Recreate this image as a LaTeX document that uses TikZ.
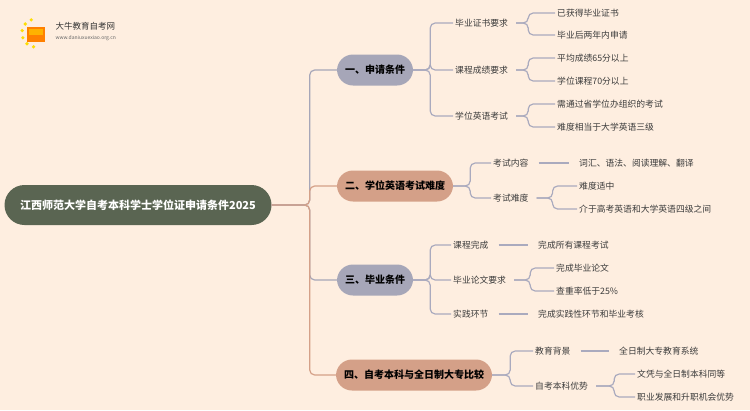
\documentclass[tikz,border=0pt]{standalone}
\usepackage{fontspec}
\setmainfont{Noto Sans CJK SC}
\usetikzlibrary{positioning}
\definecolor{bgc}{RGB}{254,238,224}
\definecolor{rootc}{RGB}{90,101,82}
\definecolor{grayc}{RGB}{166,166,184}
\definecolor{brownc}{RGB}{212,160,136}
\definecolor{linec}{RGB}{170,170,190}
\definecolor{txtc}{RGB}{60,60,60}
\begin{document}
\begin{tikzpicture}[x=1pt,y=-1pt,
		root/.style  = { rectangle, rounded corners=20pt, fill=rootc, text=white,
			font=\bfseries\fontsize{11}{13}\selectfont, minimum height=40pt, minimum width=267pt },
		topic/.style = { rectangle, rounded corners=16pt, fill=#1, text=black,
			font=\bfseries\fontsize{10}{12}\selectfont, minimum height=31pt, inner xsep=8pt },
		sub/.style   = { anchor=west, inner sep=2pt, text=txtc, font=\fontsize{8.8}{10}\selectfont },
		link/.style  = { draw=#1, line width=1.2pt, rounded corners=5pt },
		]
		\fill[bgc] (0,0) rectangle (750,410);
		\useasboundingbox (0,0) rectangle (750,410);
		% logo
		\foreach \a in {100,130,...,250}
		\fill[yellow!80!orange] (36,33) ++(\a:14) circle (1.8);
		\fill[orange] (27,27) rectangle (45,42);
		\fill[orange!60!yellow] (29,29) rectangle (43,35);
		\node[anchor=west, font=\fontsize{8.5}{9}\selectfont, text=black!80] (logo) at (52,26) {大牛教育自考网};
		\node[anchor=west, font=\fontsize{5}{6}\selectfont, text=black!60] (url) at (52,38) {www.daniuxuexiao.org.cn};
		% root and topics
		\node[root] (r) at (138,205) {江西师范大学自考本科学士学位证申请条件2025};
		\node[topic=grayc] (t1) at (375,70) {一、申请条件};
		\node[topic=brownc] (t2) at (395,186) {二、学位英语考试难度};
		\node[topic=grayc] (t3) at (375,280) {三、毕业条件};
		\node[topic=brownc] (t4) at (414,375) {四、自考本科与全日制大专比较};
		% level 2
		\node[sub] (a1) at (453,23) {毕业证书要求};
		\node[sub] (a2) at (453,70) {课程成绩要求};
		\node[sub] (a3) at (453,116) {学位英语考试};
		\node[sub] (b1) at (491,163) {考试内容};
		\node[sub] (b2) at (491,198) {考试难度};
		\node[sub] (c1) at (451,245) {课程完成};
		\node[sub] (c2) at (451,280) {毕业论文要求};
		\node[sub] (c3) at (451,314) {实践环节};
		\node[sub] (d1) at (533,351) {教育背景};
		\node[sub] (d2) at (533,386) {自考本科优势};
		% leaves
		\node[sub] (a11) at (555,13) {已获得毕业证书};
		\node[sub] (a12) at (555,35) {毕业后两年内申请};
		\node[sub] (a21) at (555,58) {平均成绩65分以上};
		\node[sub] (a22) at (555,81) {学位课程70分以上};
		\node[sub] (a31) at (555,104) {需通过省学位办组织的考试};
		\node[sub] (a32) at (555,127) {难度相当于大学英语三级};
		\node[sub] (b11) at (577,163) {词汇、语法、阅读理解、翻译};
		\node[sub] (b21) at (577,186) {难度适中};
		\node[sub] (b22) at (577,209) {介于高考英语和大学英语四级之间};
		\node[sub] (c11) at (536,245) {完成所有课程考试};
		\node[sub] (c21) at (554,268) {完成毕业论文};
		\node[sub] (c22) at (554,291) {查重率低于25\%};
		\node[sub] (c31) at (536,314) {完成实践性环节和毕业考核};
		\node[sub] (d11) at (617,351) {全日制大专教育系统};
		\node[sub] (d21) at (635,374) {文凭与全日制本科同等};
		\node[sub] (d22) at (635,397) {职业发展和升职机会优势};
		% connect root to topics
		\draw[link=grayc] (r.east) -- ++(38,0) |- (t1.west);
		\draw[link=brownc] (r.east) -- ++(38,0) |- (t2.west);
		\draw[link=grayc] (r.east) -- ++(38,0) |- (t3.west);
		\draw[link=brownc] (r.east) -- ++(38,0) |- (t4.west);
		% topics to level 2
		\foreach \p/\c/\d in {t1/a1/17, t1/a2/17, t1/a3/17, t2/b1/17, t2/b2/17,
			t3/c1/17, t3/c2/17, t3/c3/17, t4/d1/18, t4/d2/18}
		\draw[link=linec] (\p.east) -- ++(\d,0) |- (\c.west);
		% level 2 to leaves
		\foreach \p/\c/\d in {a1/a11/12, a1/a12/12, a2/a21/12, a2/a22/12, a3/a31/12, a3/a32/12,
			b2/b21/16, b2/b22/16, c2/c21/16, c2/c22/16, d2/d21/18, d2/d22/18}
		\draw[link=linec] ([xshift=6pt]\p.east) -- ++(\d,0) |- (\c.west);
		\foreach \p/\c in {b1/b11, c1/c11, c3/c31, d1/d11}
		\draw[link=linec] ([xshift=8pt]\p.east) -- ([xshift=-8pt]\c.west);
		\end{tikzpicture}
\end{document}
